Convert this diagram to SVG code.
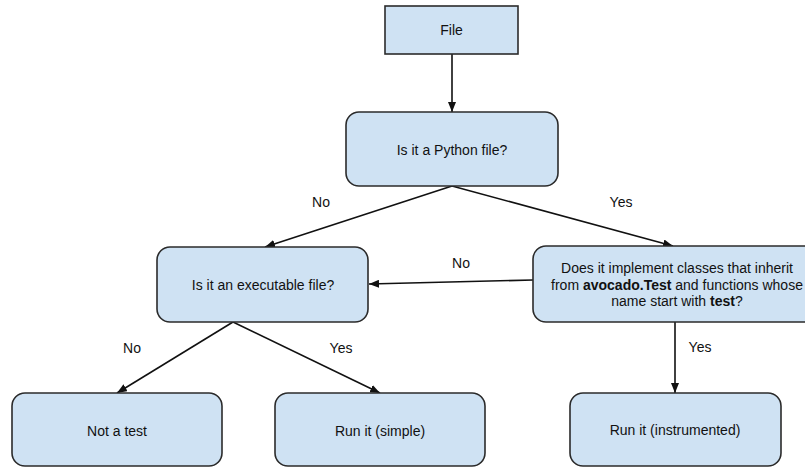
<svg xmlns="http://www.w3.org/2000/svg" width="805" height="467" viewBox="0 0 805 467">
<style>
.box{fill:#cfe2f3;stroke:#2b2b2b;stroke-width:1.6}
.t{font-family:"Liberation Sans",Arial,sans-serif;font-size:14px;fill:#111;text-anchor:middle}
.lbl{font-family:"Liberation Sans",Arial,sans-serif;font-size:14px;fill:#111;text-anchor:middle}
.c{stroke:#111;stroke-width:1.6;fill:none;marker-end:url(#ah)}
</style>
<defs>
<marker id="ah" markerUnits="userSpaceOnUse" viewBox="0 0 10 8" refX="10" refY="4" markerWidth="10" markerHeight="8" orient="auto">
<path d="M0,0 L10,4 L0,8 Z" fill="#111"/>
</marker>
</defs>
<rect width="805" height="467" fill="#fff"/>
<g id="connectors">
<line class="c" x1="452" y1="54" x2="452" y2="112"/>
<line class="c" x1="452" y1="186" x2="265" y2="247"/>
<line class="c" x1="452" y1="186" x2="673" y2="246"/>
<line class="c" x1="533" y1="280" x2="369" y2="284"/>
<line class="c" x1="233" y1="322" x2="117" y2="393"/>
<line class="c" x1="233" y1="322" x2="380" y2="393"/>
<line class="c" x1="675" y1="322" x2="675" y2="393"/>
<text class="lbl" x="321" y="207">No</text>
<text class="lbl" x="621" y="207">Yes</text>
<text class="lbl" x="461" y="268">No</text>
<text class="lbl" x="132" y="353">No</text>
<text class="lbl" x="341" y="353">Yes</text>
<text class="lbl" x="700" y="352">Yes</text>
</g>
<g id="file">
<rect class="box" x="385" y="6" width="133" height="48"/>
<text class="t" x="451.5" y="35">File</text>
</g>
<g id="python">
<rect class="box" x="346" y="112" width="212" height="74" rx="13"/>
<text class="t" x="452" y="155">Is it a Python file?</text>
</g>
<g id="executable">
<rect class="box" x="157" y="247" width="211" height="75" rx="13"/>
<text class="t" x="263" y="290">Is it an executable file?</text>
</g>
<g id="avocado">
<rect class="box" x="533" y="246" width="288" height="76" rx="13"/>
<text class="t" x="677" y="273">Does it implement classes that inherit</text>
<text class="t" x="677" y="290">from <tspan font-weight="bold">avocado.Test</tspan> and functions whose</text>
<text class="t" x="677" y="306">name start with <tspan font-weight="bold">test</tspan>?</text>
</g>
<g id="nottest">
<rect class="box" x="12" y="393" width="210" height="73" rx="13"/>
<text class="t" x="117" y="436">Not a test</text>
</g>
<g id="simple">
<rect class="box" x="275" y="393" width="210" height="73" rx="13"/>
<text class="t" x="380" y="436">Run it (simple)</text>
</g>
<g id="instrumented">
<rect class="box" x="570" y="393" width="211" height="73" rx="13"/>
<text class="t" x="675" y="435">Run it (instrumented)</text>
</g>
</svg>
